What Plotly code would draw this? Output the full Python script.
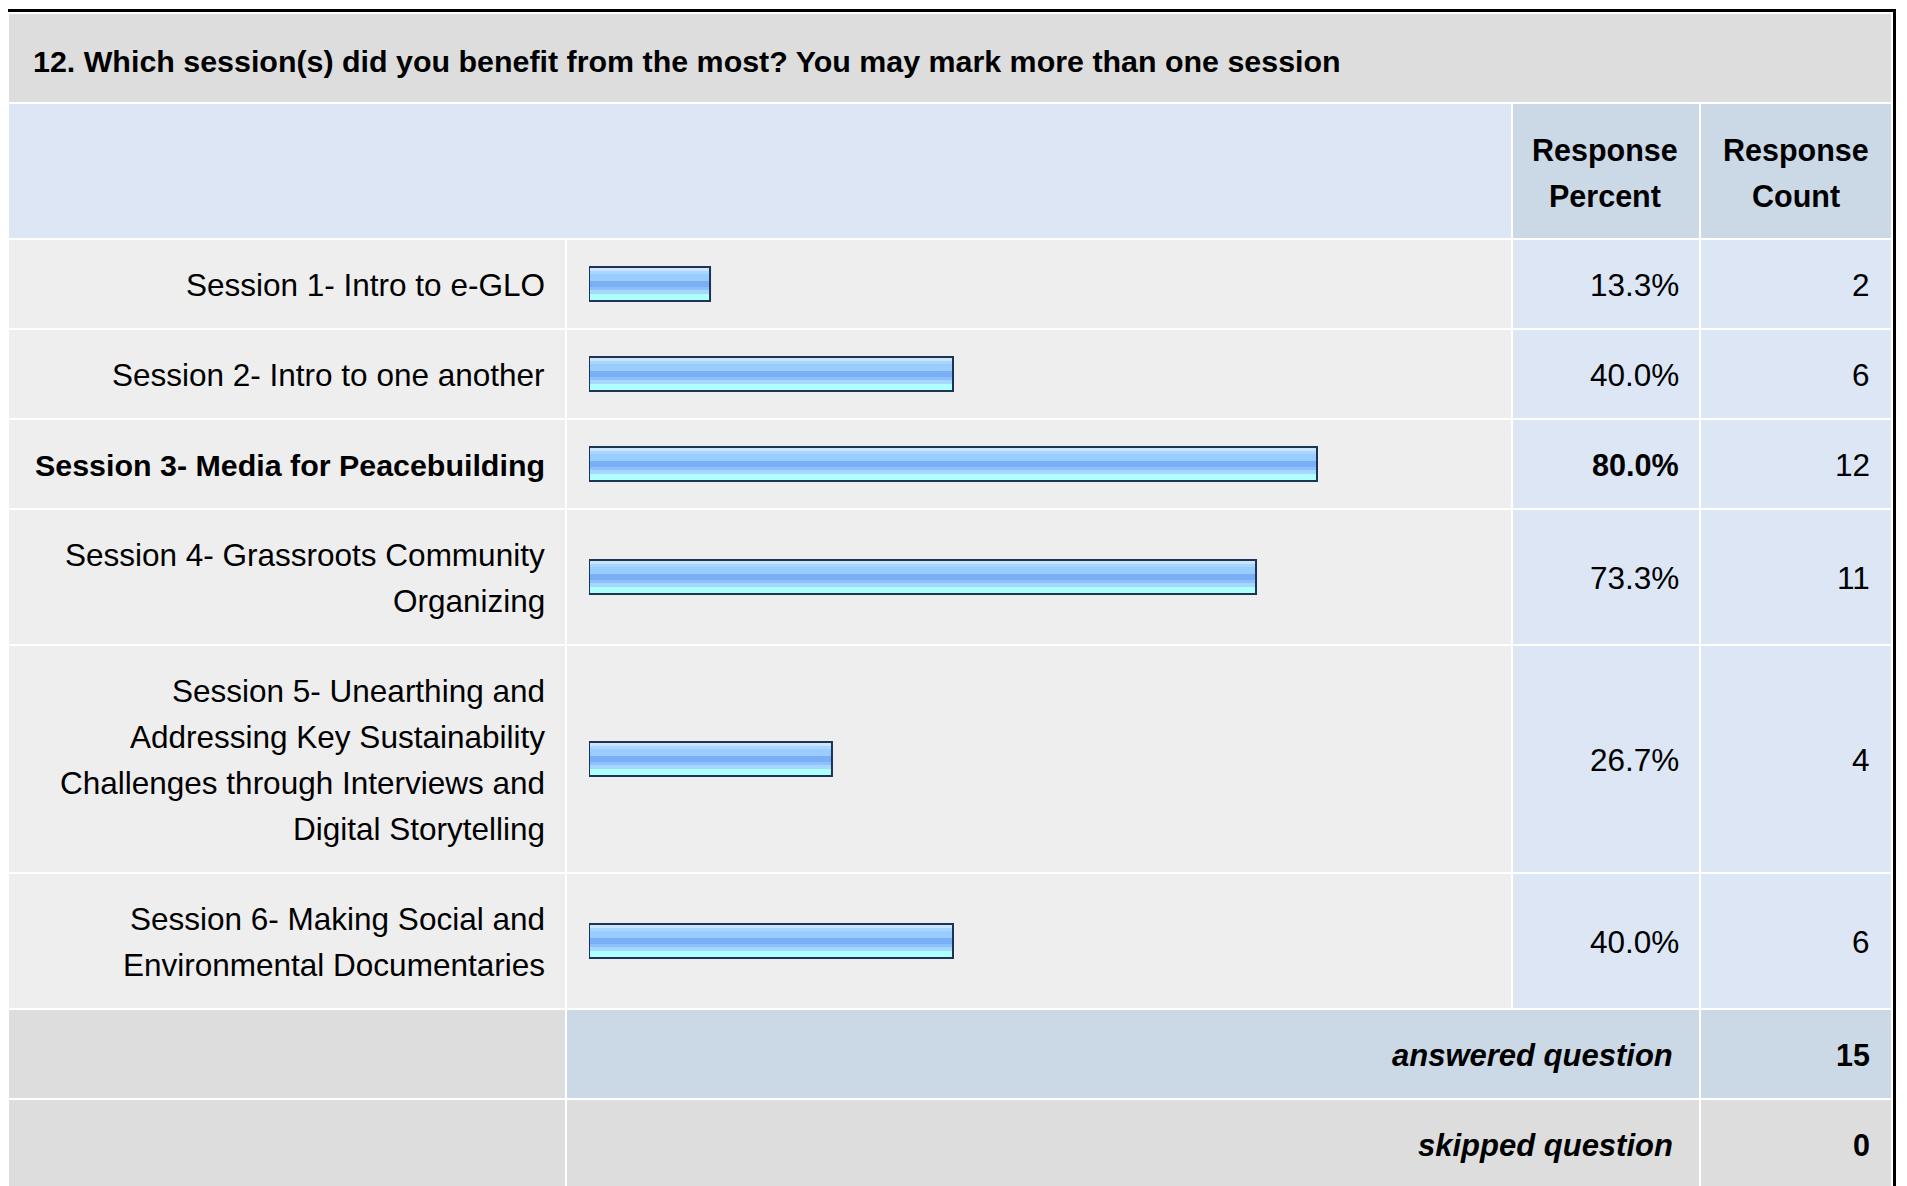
import plotly.graph_objects as go

W, H = 1907, 1186
OFF = 8  # browser body margin; coordinates below are page pixels
FIG_W, FIG_H = W - OFF, H - OFF

TITLE = "12. Which session(s) did you benefit from the most? You may mark more than one session"
session_lines = [
    ["Session 1- Intro to e-GLO"],
    ["Session 2- Intro to one another"],
    ["Session 3- Media for Peacebuilding"],
    ["Session 4- Grassroots Community", "Organizing"],
    ["Session 5- Unearthing and", "Addressing Key Sustainability",
     "Challenges through Interviews and", "Digital Storytelling"],
    ["Session 6- Making Social and", "Environmental Documentaries"],
]
response_percent = [13.3, 40.0, 80.0, 73.3, 26.7, 40.0]
response_count = [2, 6, 12, 11, 4, 6]
header_percent = ["Response", "Percent"]
header_count = ["Response", "Count"]
answered_question = 15
skipped_question = 0

FONT = "Liberation Sans, Arial, Helvetica, sans-serif"
GRAY = "#dddddd"
CELL = "#eeeeee"
BLUE = "#dce6f4"
BLUE_DK = "#cbd8e6"
NAVY = "#1e3456"

# column edges in px
X_LEFT, X_BAR, X_PCT, X_CNT, X_RIGHT = 8, 566, 1512, 1700, 1892
LINE_H = 46
FS = 31.5


def row_h(n):
    return 44 + LINE_H * n


def px(x):
    return (x - OFF) / FIG_W


# row edges
title_top, title_bot = 13, 103
header_top, header_bot = title_bot, title_bot + row_h(2)
rows = []
y = header_bot
for lines in session_lines:
    rows.append((y, y + row_h(len(lines))))
    y += row_h(len(lines))
ans_top, ans_bot = y, y + row_h(1)
skip_top, skip_bot = ans_bot, ans_bot + row_h(1)
centers = [(a + b) / 2 for a, b in rows]

shapes = []


def rect(x0, x1, y0, y1, color, inset=1):
    shapes.append(dict(
        type="rect", xref="paper", yref="y", layer="below",
        x0=px(x0 + inset), x1=px(x1 - inset), y0=y0 + inset, y1=y1 - inset,
        fillcolor=color, line_width=0,
    ))


# outer frame
rect(4, 1896, 9, H + 20, "black", inset=0)
rect(7, 1893, 12, H + 20, "white", inset=0)

rect(X_LEFT, X_RIGHT, title_top, title_bot, GRAY)
rect(X_LEFT, X_PCT, header_top, header_bot, BLUE)
rect(X_PCT, X_CNT, header_top, header_bot, BLUE_DK)
rect(X_CNT, X_RIGHT, header_top, header_bot, BLUE_DK)
for a, b in rows:
    rect(X_LEFT, X_BAR, a, b, CELL)
    rect(X_BAR, X_PCT, a, b, CELL)
    rect(X_PCT, X_CNT, a, b, BLUE)
    rect(X_CNT, X_RIGHT, a, b, BLUE)
rect(X_LEFT, X_BAR, ans_top, ans_bot, GRAY)
rect(X_BAR, X_CNT, ans_top, ans_bot, BLUE_DK)
rect(X_CNT, X_RIGHT, ans_top, ans_bot, BLUE_DK)
rect(X_LEFT, X_BAR, skip_top, skip_bot, GRAY)
rect(X_BAR, X_CNT, skip_top, skip_bot, GRAY)
rect(X_CNT, X_RIGHT, skip_top, skip_bot, GRAY)

fig = go.Figure()

# glossy bar: horizontal stripes (offset from centre in px, height, colour)
stripes = [
    (-17, 34, "#99ccff"),
    (-16, 3, "#cbe5ff"),
    (-13, 3, "#a9d5ff"),
    (-3, 6, "#7aaff5"),
    (3, 3, "#8dc0ff"),
    (6, 4, "#a4d8ff"),
    (10, 6, "#b0ffff"),
]
for off, wd, col in stripes:
    fig.add_trace(go.Bar(
        x=response_percent, y=centers, orientation="h",
        offset=off, width=wd, marker=dict(color=col, line_width=0),
        hoverinfo="skip",
    ))
fig.add_trace(go.Bar(
    x=response_percent, y=centers, orientation="h",
    offset=-17, width=34,
    marker=dict(color="rgba(0,0,0,0)", line=dict(color=NAVY, width=2)),
    hoverinfo="skip",
))

annotations = []


def txt(text, x, y, anchor="right", size=FS, bold=False, italic=False):
    if bold:
        text = f"<b>{text}</b>"
    if italic:
        text = f"<i>{text}</i>"
    annotations.append(dict(
        text=text, x=px(x), y=y, xref="paper", yref="y",
        xanchor=anchor, yanchor="middle", showarrow=False,
        font=dict(family=FONT, size=size, color="black"),
    ))


txt(TITLE, 31, 61, anchor="left", size=30.4, bold=True)

hc = (header_top + header_bot) / 2 + 2
for i, (lp, lc) in enumerate(zip(header_percent, header_count)):
    yy = hc + (i - 0.5) * LINE_H
    txt(lp, (X_PCT + X_CNT) / 2 - 1, yy, anchor="center", size=30.5, bold=True)
    txt(lc, (X_CNT + X_RIGHT) / 2, yy, anchor="center", size=30.5, bold=True)

top_pct = max(response_percent)
for lines, c, p, n in zip(session_lines, centers, response_percent, response_count):
    bold = p == top_pct
    for i, line in enumerate(lines):
        yy = c + 1 + (i - (len(lines) - 1) / 2) * LINE_H
        txt(line, 547, yy, size=30.4 if bold else FS, bold=bold)
    txt(f"{p:.1f}%", 1681, c + 1, size=30.6 if bold else FS, bold=bold)
    txt(str(n), 1872, c + 1)

txt("answered question", 1675, (ans_top + ans_bot) / 2 + 1, size=31, bold=True, italic=True)
txt(str(answered_question), 1872, (ans_top + ans_bot) / 2 + 1, size=30.5, bold=True)
txt("skipped question", 1675, (skip_top + skip_bot) / 2 + 1, size=31, bold=True, italic=True)
txt(str(skipped_question), 1872, (skip_top + skip_bot) / 2 + 1, size=30.5, bold=True)

fig.update_layout(
    width=FIG_W, height=FIG_H,
    margin=dict(l=0, r=0, t=0, b=0),
    paper_bgcolor="white",
    plot_bgcolor="rgba(0,0,0,0)",
    showlegend=False,
    barmode="overlay",
    xaxis=dict(domain=[px(589), px(1499)], range=[0, 100], visible=False, fixedrange=True),
    yaxis=dict(domain=[0, 1], range=[H, OFF], visible=False, fixedrange=True),
    shapes=shapes,
    annotations=annotations,
)

fig.write_html("out.html", config={"displayModeBar": False})
